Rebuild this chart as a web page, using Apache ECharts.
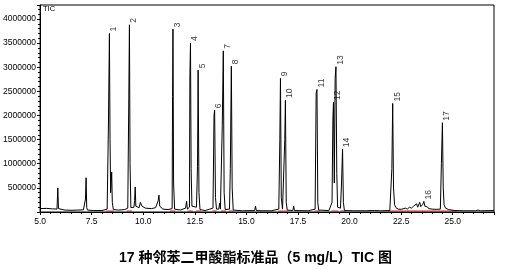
<!DOCTYPE html>
<html><head><meta charset="utf-8">
<script src="https://cdn.jsdelivr.net/npm/echarts@6/dist/echarts.min.js"></script>
<style>html,body{margin:0;padding:0;background:#fff}#c{width:511px;height:269px}</style>
</head><body><div id="c"></div>
<script>
// TIC trace (retention time, min) and abundance
const ticTime = [5.00,5.30,5.60,5.82,5.86,5.89,5.95,6.20,6.50,6.80,7.10,7.18,7.20,7.23,7.26,7.30,7.60,8.00,8.25,8.31,8.36,8.39,8.42,8.47,8.50,8.55,8.80,9.10,9.25,9.30,9.33,9.36,9.40,9.55,9.58,9.61,9.64,9.80,9.86,9.90,9.94,10.10,10.40,10.60,10.72,10.76,10.80,10.95,11.20,11.40,11.42,11.44,11.47,11.52,11.80,12.05,12.10,12.14,12.24,12.26,12.29,12.32,12.36,12.58,12.63,12.66,12.70,12.75,13.00,13.38,13.43,13.46,13.50,13.55,13.66,13.70,13.74,13.80,13.83,13.88,13.92,13.97,14.18,14.22,14.27,14.31,14.36,14.80,15.40,15.44,15.48,15.80,16.20,16.57,16.62,16.65,16.69,16.75,16.83,16.86,16.89,16.93,16.98,17.25,17.29,17.33,18.00,18.33,18.38,18.42,18.46,18.50,19.00,19.15,19.19,19.22,19.26,19.30,19.34,19.38,19.42,19.56,19.61,19.66,19.70,19.75,20.20,20.80,21.10,21.15,21.20,21.50,21.95,22.05,22.09,22.13,22.18,22.25,22.35,22.50,22.70,22.80,22.90,23.00,23.10,23.15,23.25,23.30,23.40,23.45,23.55,23.60,23.65,23.75,23.85,24.00,24.20,24.40,24.45,24.50,24.54,24.58,24.65,24.80,25.10,25.50,26.10,26.23,26.35,27.00];
const ticAbund = [70000,75000,65000,60000,500000,70000,55000,40000,35000,40000,45000,60000,270000,710000,90000,40000,30000,30000,60000,1720000,3700000,1500000,400000,830000,200000,50000,40000,50000,80000,2360000,3880000,1000000,90000,100000,240000,520000,120000,90000,200000,220000,120000,80000,70000,90000,230000,350000,120000,60000,50000,70000,2390000,3790000,600000,60000,40000,80000,220000,60000,100000,2800000,3500000,900000,120000,100000,940000,2940000,400000,50000,30000,80000,2000000,2110000,300000,60000,60000,180000,60000,80000,1800000,3340000,400000,50000,60000,900000,3020000,500000,40000,25000,30000,120000,30000,25000,25000,60000,1500000,2770000,300000,60000,80000,1500000,2320000,200000,40000,30000,120000,30000,25000,60000,2460000,2540000,200000,40000,30000,200000,1900000,2280000,600000,2770000,3010000,800000,100000,80000,600000,1300000,200000,30000,25000,25000,30000,70000,30000,25000,30000,900000,2250000,500000,150000,90000,60000,55000,80000,60000,100000,80000,120000,90000,170000,100000,200000,110000,160000,220000,120000,110000,70000,60000,55000,60000,1000000,1850000,500000,150000,80000,50000,30000,25000,25000,40000,25000,30000];

// peak labels
const peakNames  = ['1','2','3','4','5','6','7','8','9','10','11','12','13','14','15','16','17'];
const peakTime   = [8.36,9.33,11.44,12.29,12.66,13.46,13.88,14.27,16.65,16.89,18.42,19.22,19.34,19.66,22.09,23.60,24.50];
const peakHeight = [3700000,3880000,3790000,3500000,2940000,2110000,3340000,3020000,2770000,2320000,2540000,2280000,3010000,1300000,2250000,220000,1850000];

// integration baselines (red)
const integStart = [8.20,9.20,11.30,12.15,12.55,13.35,13.78,14.15,16.55,16.80,18.30,19.12,19.55,21.85];
const integEnd   = [8.58,9.45,11.56,12.40,12.80,13.56,14.00,14.40,16.78,17.00,18.55,19.45,19.80,25.20];
const integLevel = 20000;

// axes
const xMin = 5, xMax = 27, xStep = 2.5;
const yMin = 0, yMax = 4290000, yStep = 500000;

const ticData = ticTime.map((t, i) => [t, ticAbund[i]]);
const labelData = peakTime.map((t, i) => [t, peakHeight[i], peakNames[i]]);
const redData = [];
integStart.forEach((s, i) => { redData.push([s, integLevel], [integEnd[i], integLevel], [integEnd[i], null]); });

const font = "'Liberation Sans', Arial, sans-serif";
const chart = echarts.init(document.getElementById('c'), null, {renderer: 'canvas'});
chart.setOption({
  animation: false,
  backgroundColor: '#fff',
  grid: {left: 40, right: 17, top: 5, bottom: 57, show: true, borderColor: '#000', borderWidth: 1, backgroundColor: 'transparent'},
  xAxis: {
    type: 'value', min: xMin, max: xMax, interval: xStep,
    axisLine: {show: true, onZero: false, lineStyle: {color: '#000', width: 1}},
    axisTick: {show: true, length: 3, lineStyle: {color: '#000'}},
    minorTick: {show: true, splitNumber: 5, length: 2, lineStyle: {color: '#000'}},
    splitLine: {show: false},
    axisLabel: {color: '#000', fontFamily: font, fontSize: 8.5, margin: 5, showMaxLabel: false,
      formatter: v => v.toFixed(1)}
  },
  yAxis: {
    type: 'value', min: yMin, max: yMax, interval: yStep,
    axisLine: {show: true, lineStyle: {color: '#000', width: 1}},
    axisTick: {show: true, length: 3, lineStyle: {color: '#000'}},
    minorTick: {show: true, splitNumber: 5, length: 2, lineStyle: {color: '#000'}},
    splitLine: {show: false},
    axisLabel: {color: '#000', fontFamily: font, fontSize: 8.5, margin: 4, showMinLabel: false, showMaxLabel: false,
      formatter: v => String(v)}
  },
  graphic: [
    {type: 'text', left: 43, top: 5, style: {text: 'TIC', fontFamily: font, fontSize: 7.5, fill: '#000'}},
    {type: 'text', left: 'center', top: 251, x: 8, style: {text: '17 种邻苯二甲酸酯标准品（5 mg/L）TIC 图', fontFamily: "'Liberation Sans', 'Noto Sans CJK SC', sans-serif", fontSize: 14, fontWeight: 'bold', fill: '#000'}}
  ],
  series: [
    {type: 'line', data: ticData, symbol: 'none', lineStyle: {color: '#000', width: 1}, z: 3},
    {type: 'line', data: redData, symbol: 'none', connectNulls: false, lineStyle: {color: '#d01010', width: 1}, z: 2},
    {type: 'scatter', data: labelData, symbolSize: 1, itemStyle: {color: 'rgba(0,0,0,0)'}, z: 4,
      label: {show: true, formatter: p => p.data[2], rotate: 90, position: 'inside', align: 'left', verticalAlign: 'top',
        offset: [2, 0], color: '#000', fontFamily: font, fontSize: 8.5}}
  ]
});
</script></body></html>
